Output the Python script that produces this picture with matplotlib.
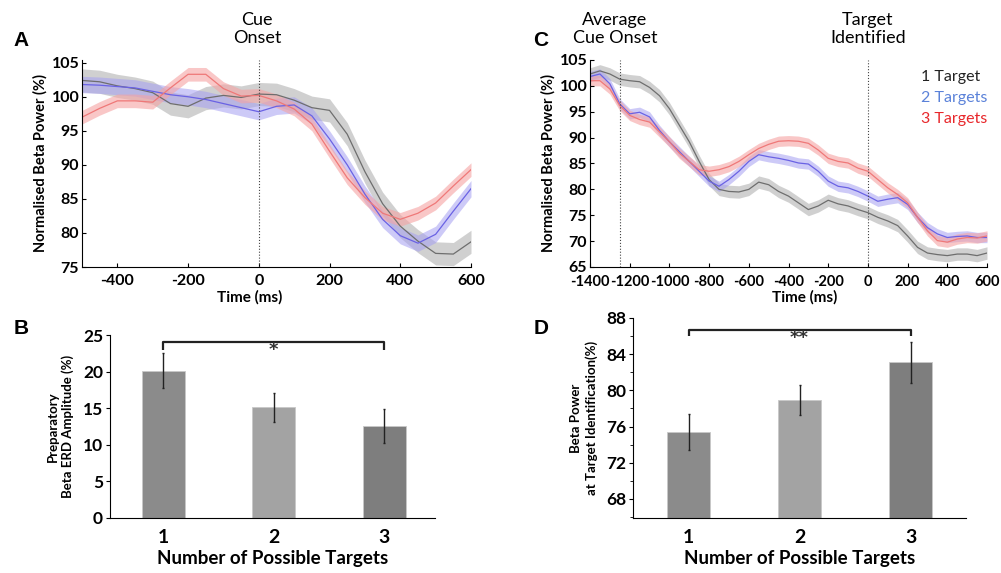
import matplotlib
matplotlib.use("Agg")
import matplotlib.pyplot as plt
import numpy as np

plt.rcParams["font.family"] = ["Lato", "DejaVu Sans"]
plt.rcParams["axes.unicode_minus"] = False

# ---- Panel A: time-locked to cue onset ----
time_a = np.arange(-500, 601, 50)
a_one = [102.4, 102.2, 101.6, 101.2, 100.6, 99.0, 98.6, 99.8, 100.2, 99.9, 100.4, 100.3,
         99.5, 98.4, 98.0, 94.5, 89.0, 84.3, 81.0, 78.8, 77.0, 76.9, 78.7]
a_two = [101.8, 101.7, 101.5, 101.3, 100.8, 100.3, 100.0, 99.6, 99.0, 98.4, 97.8, 98.6,
         98.8, 97.2, 93.8, 90.0, 85.7, 82.0, 79.6, 78.5, 79.8, 83.2, 86.5]
a_three = [97.0, 98.3, 99.4, 99.4, 99.2, 101.3, 103.3, 103.3, 101.2, 100.1, 100.2, 99.4,
           98.2, 96.0, 92.0, 88.1, 85.2, 82.9, 82.0, 82.9, 84.4, 86.9, 89.3]
sem_a = [1.7, 1.2, 1.0]

# ---- Panel C: time-locked to target identification ----
time_c = np.arange(-1400, 601, 50)
c_one = [102.3, 102.9, 102.3, 101.3, 101.0, 100.8, 99.7, 98.1, 95.6, 92.4, 89.2, 85.4,
         81.9, 80.0, 79.6, 79.5, 80.0, 81.4, 80.9, 79.6, 78.7, 77.4, 76.1, 76.8, 77.9,
         77.2, 76.8, 76.1, 75.5, 74.6, 73.9, 73.0, 71.0, 68.8, 67.7, 67.4, 67.2, 67.5,
         67.5, 67.2, 67.7]
c_two = [101.8, 102.3, 100.4, 96.5, 94.6, 94.9, 94.0, 91.4, 89.2, 87.3, 85.4, 83.5,
         81.6, 80.6, 81.9, 83.5, 85.4, 86.7, 86.3, 86.0, 85.6, 85.1, 84.9, 83.5, 81.6,
         80.6, 80.3, 79.6, 78.7, 77.7, 78.1, 78.4, 77.1, 74.6, 72.6, 71.4, 70.7, 70.9,
         71.0, 70.7, 70.7]
c_three = [101.0, 101.0, 99.4, 96.2, 94.3, 93.5, 93.0, 91.1, 89.2, 87.0, 85.4, 83.8,
           83.5, 83.8, 84.4, 85.4, 86.7, 87.9, 88.7, 89.3, 89.4, 89.3, 88.9, 87.6, 86.0,
           85.4, 85.1, 84.1, 83.5, 81.9, 80.3, 79.0, 77.4, 74.6, 72.0, 70.1, 69.8, 70.4,
           70.7, 70.6, 71.0]
sem_c = [1.2, 1.0, 1.0]
avg_cue_onset = -1250

# ---- Bar panels ----
n_targets = [1, 2, 3]
erd_amp = [20.1, 15.1, 12.6]
erd_err = [2.4, 2.0, 2.3]
beta_at_id = [75.4, 78.9, 83.1]
beta_err = [1.95, 1.65, 2.25]

series_names = ["1 Target", "2 Targets", "3 Targets"]
line_cols = ["#6e6e6e", "#6a62e4", "#ef7878"]
band_cols = ["#b8b8b8", "#a59ff2", "#f5a3a3"]
band_alpha = [0.65, 0.55, 0.6]
text_cols = ["#222222", "#5b82d9", "#e8272b"]
bar_cols = ["#8b8b8b", "#a3a3a3", "#7e7e7e"]

fig = plt.figure(figsize=(10.01, 5.73), dpi=100)
W, H = 1001, 573


def rect(x0, y_top, x1, y_bot):
    return [x0 / W, 1 - y_bot / H, (x1 - x0) / W, (y_bot - y_top) / H]


def style_line_axes(ax):
    for s in ("top", "right"):
        ax.spines[s].set_visible(False)
    ax.tick_params(direction="in", length=3, width=0.8, labelsize=11.5)
    ax.tick_params(axis="x", pad=5)
    ax.tick_params(axis="y", pad=2)
    for lab in ax.get_xticklabels() + ax.get_yticklabels():
        lab.set_fontweight("bold")


def draw_series(ax, t, ys, sems):
    for y, s, lc, bc, ba in zip(ys, sems, line_cols, band_cols, band_alpha):
        y = np.asarray(y)
        ax.fill_between(t, y - s, y + s, color=bc, alpha=ba, lw=0)
        ax.plot(t, y, color=lc, lw=0.9)


# ── A ──
ax_a = fig.add_axes(rect(82, 60, 471, 267))
draw_series(ax_a, time_a, [a_one, a_two, a_three], sem_a)
ax_a.axvline(0, color="#444444", lw=0.8, ls=":")
ax_a.set_xlim(-500, 600)
ax_a.set_ylim(75, 105.4)
ax_a.set_xticks(range(-400, 601, 200))
ax_a.set_yticks(range(75, 106, 5))
ax_a.set_ylabel("Normalised Beta Power (%)", fontsize=10.5, fontweight="bold", labelpad=3)
style_line_axes(ax_a)

# ── C ──
ax_c = fig.add_axes(rect(590, 60, 987, 267))
draw_series(ax_c, time_c, [c_one, c_two, c_three], sem_c)
ax_c.axvline(avg_cue_onset, color="#444444", lw=0.8, ls=":")
ax_c.axvline(0, color="#444444", lw=0.8, ls=":")
ax_c.set_xlim(-1400, 600)
ax_c.set_ylim(65, 105)
ax_c.set_xticks(range(-1400, 601, 200))
ax_c.set_yticks(range(65, 106, 5))
ax_c.set_ylabel("Normalised Beta Power (%)", fontsize=10.5, fontweight="bold", labelpad=3)
style_line_axes(ax_c)
ax_c.tick_params(axis="x", labelsize=10.5, pad=6)
for i, (name, col) in enumerate(zip(series_names, text_cols)):
    ax_c.text(0.835, 0.92 - i * 0.103, name, transform=ax_c.transAxes,
              color=col, fontsize=11.5, ha="left", va="center")

fig.text(250 / W, 1 - 297 / H, "Time (ms)", ha="center", va="center",
         fontsize=11, fontweight="bold")
fig.text(805 / W, 1 - 297 / H, "Time (ms)", ha="center", va="center",
         fontsize=11, fontweight="bold")
fig.text(257 / W, 1 - 29 / H, "Cue\nOnset", ha="center", va="center",
         fontsize=13, linespacing=1.2)
fig.text(615 / W, 1 - 29 / H, "Average\nCue Onset", ha="center", va="center",
         fontsize=13, linespacing=1.2)
fig.text(868 / W, 1 - 29 / H, "Target\nIdentified", ha="center", va="center",
         fontsize=13, linespacing=1.2)


def style_bar_axes(ax, ylabel):
    for s in ("top", "right"):
        ax.spines[s].set_visible(False)
    ax.tick_params(axis="y", direction="out", length=3, width=0.8, pad=2, labelsize=12.5)
    ax.tick_params(axis="x", length=0, pad=8, labelsize=14)
    ax.set_xticks(n_targets)
    for lab in ax.get_xticklabels() + ax.get_yticklabels():
        lab.set_fontweight("bold")
    ax.set_xlabel("Number of Possible Targets", fontsize=13.5, fontweight="bold", labelpad=3)
    ax.set_ylabel(ylabel, fontsize=9.5, fontweight="bold", labelpad=6, linespacing=1.25)


def bracket(ax, x0, x1, y_top, y_end, star, star_y):
    ax.plot([x0, x0, x1, x1], [y_end, y_top, y_top, y_end], color="#222222", lw=1.6,
            solid_capstyle="butt")
    ax.text((x0 + x1) / 2, star_y, star, ha="center", va="center",
            fontsize=13, fontweight="bold", color="#333333", family="DejaVu Sans")


# ── B ──
ax_b = fig.add_axes(rect(110, 335, 435, 518))
ax_b.bar(n_targets, erd_amp, width=0.39, color=bar_cols, edgecolor="#c8c8c8", lw=0.6)
ax_b.errorbar(n_targets, erd_amp, yerr=erd_err, fmt="none", ecolor="#222222",
              elinewidth=1.0, capsize=1)
ax_b.set_xlim(0.52, 3.46)
ax_b.set_ylim(0, 25)
ax_b.set_yticks(range(0, 26, 5))
style_bar_axes(ax_b, "Preparatory\nBeta ERD Amplitude (%)")
bracket(ax_b, 1, 3, 24.0, 23.0, "*", 23.0)

# ── D ──
ax_d = fig.add_axes(rect(633, 318, 966, 518))
ax_d.bar(n_targets, beta_at_id, width=0.39, color=bar_cols, edgecolor="#c8c8c8", lw=0.6)
ax_d.errorbar(n_targets, beta_at_id, yerr=beta_err, fmt="none", ecolor="#222222",
              elinewidth=1.0, capsize=1)
ax_d.set_xlim(0.5, 3.5)
ax_d.set_ylim(65.9, 88)
ax_d.set_yticks(range(68, 89, 4))
ax_d.set_yticks(range(66, 89, 2), minor=True)
ax_d.tick_params(axis="y", which="minor", length=2, width=0.6)
style_bar_axes(ax_d, "Beta Power\nat Target Identification(%)")
bracket(ax_d, 1, 3, 86.7, 86.0, "**", 85.8)

for letter, x, y in [("A", 21, 40), ("B", 21, 328), ("C", 541, 40), ("D", 541, 328)]:
    fig.text(x / W, 1 - y / H, letter, ha="center", va="center", fontsize=15,
             fontweight="bold", family="Liberation Sans")

fig.savefig("out.png", dpi=100)
